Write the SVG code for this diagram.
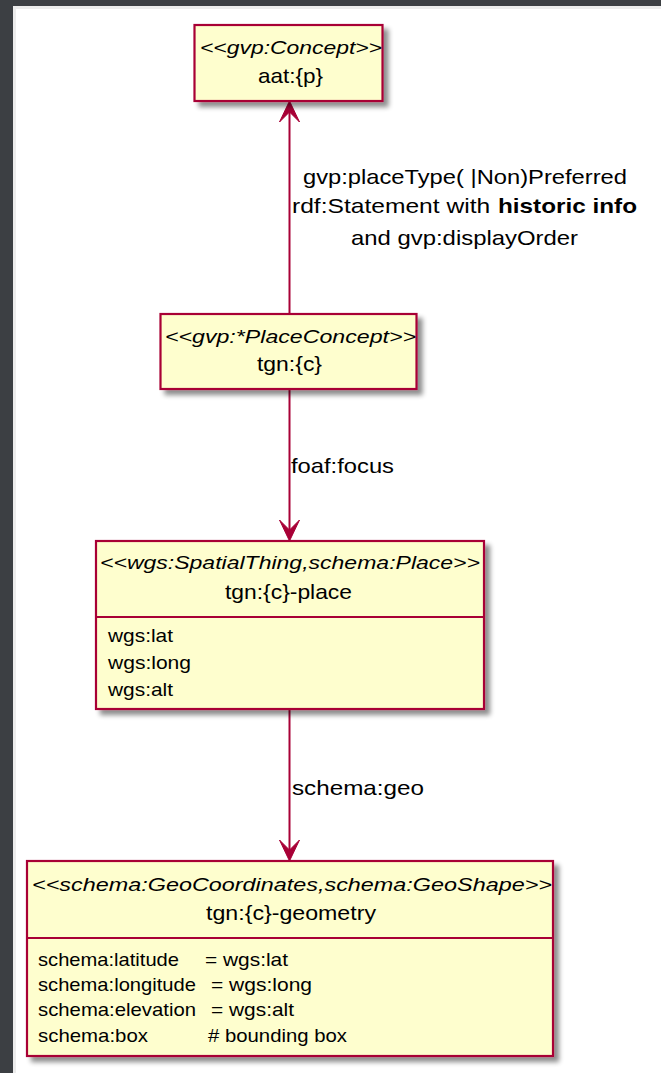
<svg xmlns="http://www.w3.org/2000/svg" width="661" height="1073" viewBox="0 0 661 1073">
<defs>
<style>
.box{fill:#FEFECE;stroke:#A80036;stroke-width:2.2}
.sep{stroke:#A80036;stroke-width:2.2}
.edge{stroke:#A80036;stroke-width:2;fill:none}
.head{fill:#A80036;stroke:#A80036;stroke-width:1}
text{font-family:"Liberation Sans",Arial,sans-serif;fill:#000}
.st{font-size:19px;font-style:italic;text-anchor:middle}
.nm{font-size:21px;text-anchor:middle}
.at{font-size:19px}
.lb{font-size:21px}
.lbc{font-size:21px;text-anchor:middle}
</style>
<filter id="sh" x="-10%" y="-10%" width="130%" height="140%">
<feGaussianBlur in="SourceAlpha" stdDeviation="2.5"/>
<feOffset dx="5" dy="5" result="b"/>
<feComponentTransfer><feFuncA type="linear" slope="0.45"/></feComponentTransfer>
<feMerge><feMergeNode/><feMergeNode in="SourceGraphic"/></feMerge>
</filter>
</defs>
<rect x="0" y="0" width="661" height="1073" fill="#3c3f43"/>
<rect x="13" y="6" width="648" height="1067" fill="#ececec"/>
<rect x="16" y="9" width="645" height="1064" fill="#ffffff"/>

<g id="connectors">
<line class="edge" x1="289.5" y1="104" x2="289.5" y2="314"/>
<polygon class="head" points="289.5,101 279.5,122 289.5,112 299.5,122"/>
<text class="lbc" x="465" y="184" textLength="324" lengthAdjust="spacingAndGlyphs">gvp:placeType( |Non)Preferred</text>
<text class="lb" y="213"><tspan x="292" textLength="205" lengthAdjust="spacingAndGlyphs">rdf:Statement with </tspan><tspan x="498" font-weight="bold" textLength="139" lengthAdjust="spacingAndGlyphs">historic info</tspan></text>
<text class="lbc" x="464.5" y="245" textLength="227" lengthAdjust="spacingAndGlyphs">and gvp:displayOrder</text>

<line class="edge" x1="289.5" y1="389" x2="289.5" y2="538"/>
<polygon class="head" points="289.5,541 279.5,520 289.5,530 299.5,520"/>
<text class="lb" x="291" y="473" textLength="103" lengthAdjust="spacingAndGlyphs">foaf:focus</text>

<line class="edge" x1="289.5" y1="709" x2="289.5" y2="858"/>
<polygon class="head" points="289.5,861 279.5,840 289.5,850 299.5,840"/>
<text class="lb" x="292" y="795" textLength="132" lengthAdjust="spacingAndGlyphs">schema:geo</text>
</g>

<g id="concept">
<rect class="box" x="194.5" y="25" width="188" height="76" filter="url(#sh)"/>
<text class="st" x="291" y="54" textLength="182" lengthAdjust="spacingAndGlyphs">&lt;&lt;gvp:Concept&gt;&gt;</text>
<text class="nm" x="290.5" y="83" textLength="65" lengthAdjust="spacingAndGlyphs">aat:{p}</text>
</g>

<g id="placeconcept">
<rect class="box" x="160.5" y="314" width="256" height="75" filter="url(#sh)"/>
<text class="st" x="290.5" y="343" textLength="251" lengthAdjust="spacingAndGlyphs">&lt;&lt;gvp:*PlaceConcept&gt;&gt;</text>
<text class="nm" x="289.5" y="371" textLength="65" lengthAdjust="spacingAndGlyphs">tgn:{c}</text>
</g>

<g id="place">
<rect class="box" x="96" y="541" width="388" height="168" filter="url(#sh)"/>
<line class="sep" x1="96" y1="617" x2="484" y2="617"/>
<text class="st" x="290" y="569" textLength="380" lengthAdjust="spacingAndGlyphs">&lt;&lt;wgs:SpatialThing,schema:Place&gt;&gt;</text>
<text class="nm" x="288.5" y="599" textLength="127" lengthAdjust="spacingAndGlyphs">tgn:{c}-place</text>
<text class="at" x="108" y="642" textLength="65" lengthAdjust="spacingAndGlyphs">wgs:lat</text>
<text class="at" x="108" y="669" textLength="83" lengthAdjust="spacingAndGlyphs">wgs:long</text>
<text class="at" x="108" y="696" textLength="65" lengthAdjust="spacingAndGlyphs">wgs:alt</text>
</g>

<g id="geometry">
<rect class="box" x="27" y="861" width="526" height="195" filter="url(#sh)"/>
<line class="sep" x1="27" y1="938" x2="553" y2="938"/>
<text class="st" x="292" y="891" textLength="520" lengthAdjust="spacingAndGlyphs">&lt;&lt;schema:GeoCoordinates,schema:GeoShape&gt;&gt;</text>
<text class="nm" x="291" y="920" textLength="170" lengthAdjust="spacingAndGlyphs">tgn:{c}-geometry</text>
<text class="at" y="966"><tspan x="38" textLength="141" lengthAdjust="spacingAndGlyphs">schema:latitude</tspan><tspan x="205" textLength="83" lengthAdjust="spacingAndGlyphs">= wgs:lat</tspan></text>
<text class="at" y="991"><tspan x="38" textLength="158" lengthAdjust="spacingAndGlyphs">schema:longitude</tspan><tspan x="211" textLength="101" lengthAdjust="spacingAndGlyphs">= wgs:long</tspan></text>
<text class="at" y="1016"><tspan x="38" textLength="158" lengthAdjust="spacingAndGlyphs">schema:elevation</tspan><tspan x="211" textLength="83" lengthAdjust="spacingAndGlyphs">= wgs:alt</tspan></text>
<text class="at" y="1042"><tspan x="38" textLength="110" lengthAdjust="spacingAndGlyphs">schema:box</tspan><tspan x="208" textLength="139" lengthAdjust="spacingAndGlyphs"># bounding box</tspan></text>
</g>
</svg>
